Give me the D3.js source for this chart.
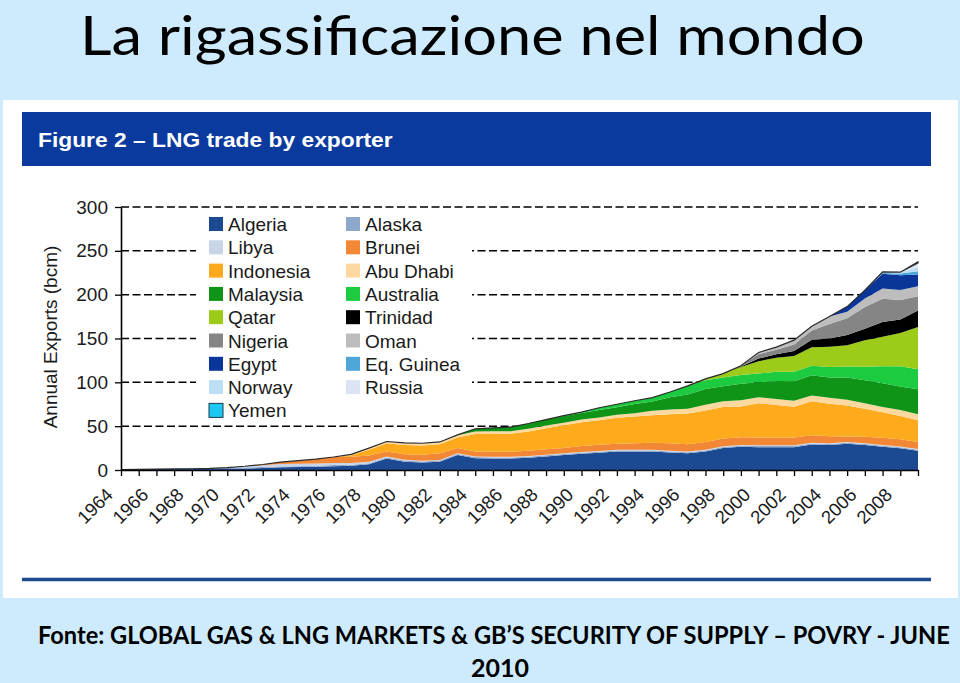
<!DOCTYPE html>
<html><head><meta charset="utf-8">
<script src="https://cdn.jsdelivr.net/npm/d3@7"></script>
<style>body{margin:0;padding:0;background:#cdebfd;} svg{display:block;}</style>
</head><body>
<svg id="c" width="960" height="683"></svg>
<script>
// ---------- DATA ----------
const years = [1964,1965,1966,1967,1968,1969,1970,1971,1972,1973,1974,1975,1976,1977,1978,1979,1980,1981,1982,1983,1984,1985,1986,1987,1988,1989,1990,1991,1992,1993,1994,1995,1996,1997,1998,1999,2000,2001,2002,2003,2004,2005,2006,2007,2008,2009];
const tickLabels = ["1964","1966","1968","1970","1972","1974","1976","1978","1980","1982","1984","1986","1988","1990","1992","1994","1996","1998","2000","2002","2004","2006","2008"];
const yTicks = [0,50,100,150,200,250,300];
const seriesNames = ["Algeria","Alaska","Libya","Brunei","Indonesia","Abu Dhabi","Malaysia","Australia","Qatar","Trinidad","Nigeria","Oman","Egypt","Eq. Guinea","Norway","Russia","Yemen"];

//                1964                                    1970                                         1980                                              1990                                              2000                                              2009
const algeria   = [0.5,0.8,1.0,1.2,1.4,1.5, 1.6,1.8,2.3,3.0,3.3,3.6,4.4,4.8,6.5,13.0, 9.5,8.5,9.5,17.0,13.5,13.0,13.0,14.0,15.5,17.0, 18.5,19.7,21.0,21.0,21.0,20.0,19.0,21.0,25.0,26.5, 26.0,26.0,26.0,29.0,28.5,30.0,28.5,26.5,24.7,22.0];
const alaska    = [0,0,0,0,0,0.3, 0.9,1.0,1.0,1.1,1.1,1.2,1.2,1.2,1.3,1.3, 1.2,1.2,1.2,1.2,1.2,1.2,1.2,1.2,1.2,1.2, 1.2,1.2,1.2,1.2,1.2,1.2,1.2,1.2,1.2,1.2, 1.3,1.3,1.3,1.2,1.2,1.2,1.2,1.1,1.2,1.2];
const libya     = [0,0,0,0,0,0, 0.3,1.5,2.2,2.7,2.8,2.6,2.4,2.0,1.6,1.2, 1.0,0.8,0.8,0.8,0.8,0.8,0.8,0.8,0.8,0.8, 0.8,0.8,0.8,0.8,0.8,0.8,0.8,0.8,0.8,0.8, 0.8,0.8,0.8,0.8,0.8,0.8,0.8,0.8,0.8,0.8];
const brunei    = [0,0,0,0,0,0, 0,0,0.8,2.2,3.4,5.0,6.8,7.0,7.0,5.5, 6.3,7.0,7.5,6.0,5.5,5.7,5.8,6.0,6.2,6.0, 7.0,7.0,7.0,7.5,8.0,8.5,8.5,9.0,9.0,9.0, 9.0,9.0,9.0,8.5,8.0,6.3,7.5,8.5,8.3,8.0];
const indonesia = [0,0,0,0,0,0, 0,0,0,0,0,0,0,1.8,6.6,9.5, 10.5,10.5,10.5,12.0,20.0,20.5,20.5,22.0,24.0,26.0, 27.0,28.0,29.5,30.5,31.5,33.0,35.0,36.0,36.0,35.0, 39.0,37.0,35.0,39.0,37.0,35.3,32.0,29.0,26.5,24.7];
const abuDhabi  = [0,0,0,0,0,0, 0,0,0,0,0,0,0,1.0,2.0,2.0, 2.5,2.5,2.5,2.5,2.8,3.0,3.0,3.0,3.0,3.0, 3.0,3.2,3.5,3.8,5.0,5.5,5.5,6.5,6.5,7.0, 7.0,7.0,7.0,6.5,7.0,6.5,6.0,6.0,6.8,7.0];
const malaysia  = [0,0,0,0,0,0, 0,0,0,0,0,0,0,0,0,0, 0,0,0,0.5,3.2,3.8,4.7,6.0,6.8,7.5, 7.5,8.5,8.5,10.5,10.5,14.0,16.0,18.0,17.0,19.0, 17.0,20.5,22.0,23.0,23.0,25.5,26.5,27.0,27.0,28.5];
const australia = [0,0,0,0,0,0, 0,0,0,0,0,0,0,0,0,0, 0,0,0,0,0,0,0,0,0,0.5, 1.0,2.6,3.5,3.7,4.5,6.0,10.0,10.0,10.0,10.0, 10.0,10.5,11.0,11.0,12.0,12.5,15.2,19.5,23.0,22.8];
const qatar     = [0,0,0,0,0,0, 0,0,0,0,0,0,0,0,0,0, 0,0,0,0,0,0,0,0,0,0, 0,0,0,0,0,0,0,1.5,4.5,9.0, 14.0,16.0,18.0,21.0,23.0,24.3,30.3,33.5,38.0,48.0];
const trinidad  = [0,0,0,0,0,0, 0,0,0,0,0,0,0,0,0,0, 0,0,0,0,0,0,0,0,0,0, 0,0,0,0,0,0,0,0,0,0.5, 3.0,4.0,5.5,8.5,9.5,11.7,13.0,17.0,15.5,19.0];
const nigeria   = [0,0,0,0,0,0, 0,0,0,0,0,0,0,0,0,0, 0,0,0,0,0,0,0,0,0,0, 0,0,0,0,0,0,0,0,0,1.0, 5.0,5.0,7.5,10.5,16.5,19.0,25.0,26.5,22.0,16.3];
const oman      = [0,0,0,0,0,0, 0,0,0,0,0,0,0,0,0,0, 0,0,0,0,0,0,0,0,0,0, 0,0,0,0,0,0,0,0,0,0, 2.0,3.0,5.0,5.0,8.5,7.3,9.5,11.5,11.4,11.4];
const egypt     = [0,0,0,0,0,0, 0,0,0,0,0,0,0,0,0,0, 0,0,0,0,0,0,0,0,0,0, 0,0,0,0,0,0,0,0,0,0, 0,0,0,0,0,6.0,9.5,17.0,17.0,13.3];
const eqGuinea  = [0,0,0,0,0,0, 0,0,0,0,0,0,0,0,0,0, 0,0,0,0,0,0,0,0,0,0, 0,0,0,0,0,0,0,0,0,0, 0,0,0,0,0,0,0,0.7,1.9,3.8];
const norway    = [0,0,0,0,0,0, 0,0,0,0,0,0,0,0,0,0, 0,0,0,0,0,0,0,0,0,0, 0,0,0,0,0,0,0,0,0,0, 0,0,0,0,0,0,0,1.3,1.5,4.5];
const russia    = [0,0,0,0,0,0, 0,0,0,0,0,0,0,0,0,0, 0,0,0,0,0,0,0,0,0,0, 0,0,0,0,0,0,0,0,0,0, 0,0,0,0,0,0,0,0,0,5.0];
const yemen     = [0,0,0,0,0,0, 0,0,0,0,0,0,0,0,0,0, 0,0,0,0,0,0,0,0,0,0, 0,0,0,0,0,0,0,0,0,0, 0,0,0,0,0,0,0,0,0,1.1];

const seriesValues = [algeria,alaska,libya,brunei,indonesia,abuDhabi,malaysia,australia,qatar,trinidad,nigeria,oman,egypt,eqGuinea,norway,russia,yemen];
const colors = ["#1b4a92","#8ea8cc","#c8d4e8","#f28735","#fdaa1c","#fdd9a0","#0f9418","#1ccb3f","#9ccb19","#000000","#858585","#bdbdbd","#0a3699","#4ca6d8","#bcdff5","#dce4f4","#1fc7f3"];

// ---------- CHART ----------
const svg = d3.select("#c");
const FONT = "'Liberation Sans', Arial, sans-serif";
const SLIDE_FONT = "Lato, 'Open Sans', sans-serif";

// fit a text horizontally to a target width with a real transform
function fitWidth(sel, x0, y0, target) {
  const w = sel.node().getComputedTextLength();
  const s = Math.min(1.3, target / w);
  sel.attr("x", 0).attr("y", 0).attr("transform", `translate(${x0},${y0}) scale(${s},1)`);
}

svg.append("rect").attr("width",960).attr("height",683).attr("fill","#cdebfd");
svg.append("rect").attr("x",3).attr("y",100).attr("width",955).attr("height",498).attr("fill","#ffffff");

const title = svg.append("text").attr("font-family",SLIDE_FONT).attr("font-size",55)
  .attr("fill","#000").text("La rigassificazione nel mondo");
fitWidth(title, 80, 55, 785);

svg.append("rect").attr("x",22).attr("y",112).attr("width",909).attr("height",54).attr("fill","#0b3a9e");
const fig = svg.append("text").attr("font-family",FONT).attr("font-weight","bold")
  .attr("font-size",21).attr("fill","#ffffff").text("Figure 2 \u2013 LNG trade by exporter");
fitWidth(fig, 38, 147, 355);

const x = d3.scaleLinear().domain([years[0], years[years.length-1]]).range([121, 918]);
const y = d3.scaleLinear().domain([0, 300]).range([470, 207]);

// gridlines
svg.append("g").selectAll("line").data(yTicks.filter(v => v > 0)).join("line")
  .attr("x1",121).attr("x2",918).attr("y1",d=>y(d)).attr("y2",d=>y(d))
  .attr("stroke","#000").attr("stroke-width",1.5).attr("stroke-dasharray","8,3.5");

// stacked areas
const table = years.map((yr,i) => {
  const row = {year: yr};
  seriesNames.forEach((n,k) => row[n] = seriesValues[k][i]);
  return row;
});
const stack = d3.stack().keys(seriesNames)(table);
const area = d3.area().x(d => x(d.data.year)).y0(d => y(d[0])).y1(d => y(d[1]));
svg.append("g").selectAll("path").data(stack).join("path")
  .attr("d", area).attr("fill", (d,i) => colors[i])
  .attr("stroke", (d,i) => i === seriesNames.length-1 ? "#2a2a2a" : "none")
  .attr("stroke-width", 1.2);

// legend
svg.append("rect").attr("x",196).attr("y",212).attr("width",276).attr("height",208).attr("fill","#fff");
const lg = svg.append("g").selectAll("g").data(seriesNames).join("g")
  .attr("transform",(d,i)=>`translate(${i%2===0?209:346},${224 + Math.floor(i/2)*23.3})`);
lg.append("rect").attr("x",0).attr("y",-7).attr("width",14).attr("height",14)
  .attr("fill",(d,i)=>colors[i])
  .attr("stroke",(d,i)=> i===seriesNames.length-1 ? "#1a3a4a" : "none").attr("stroke-width",1);
lg.append("text").attr("x",19).attr("y",7).attr("font-family",FONT).attr("font-size",19)
  .attr("fill","#1a1a1a").text(d=>d);

// axes
const yAxis = svg.append("g").attr("transform","translate(121,0)")
  .call(d3.axisLeft(y).tickValues(yTicks).tickSize(6).tickSizeOuter(0).tickPadding(7));
yAxis.selectAll("text").attr("font-family",FONT).attr("font-size",19).attr("fill","#1a1a1a");
yAxis.selectAll("line").attr("stroke","#000").attr("stroke-width",1.3);
yAxis.select(".domain").attr("stroke","#000").attr("stroke-width",1.6);

const xAxis = svg.append("g").attr("transform","translate(0,470)")
  .call(d3.axisBottom(x).tickValues(years).tickSize(6).tickSizeOuter(0)
    .tickFormat(d => tickLabels.includes(String(d)) ? String(d) : ""));
xAxis.selectAll("text").attr("font-family",FONT).attr("font-size",18.5).attr("fill","#1a1a1a")
  .attr("text-anchor","end").attr("x",0).attr("y",0).attr("dy",0)
  .attr("transform","translate(-7.5,26) rotate(-45)");
xAxis.selectAll("line").attr("stroke","#000").attr("stroke-width",1.3);
xAxis.select(".domain").attr("stroke","#000").attr("stroke-width",1.6);

svg.append("text").attr("transform","translate(57,337) rotate(-90)").attr("text-anchor","middle")
  .attr("font-family",FONT).attr("font-size",19).attr("fill","#1a1a1a").text("Annual Exports (bcm)");

svg.append("line").attr("x1",22).attr("x2",931).attr("y1",579.5).attr("y2",579.5)
  .attr("stroke","#1f4a90").attr("stroke-width",3.5);

// footer
const foot = svg.append("text").attr("font-family",SLIDE_FONT)
  .attr("font-weight","bold").attr("font-size",25).attr("fill","#000")
  .text("Fonte: GLOBAL GAS & LNG MARKETS & GB\u2019S SECURITY OF SUPPLY \u2013 POVRY - JUNE");
fitWidth(foot, 38, 644, 912);
svg.append("text").attr("x",500).attr("y",677).attr("text-anchor","middle").attr("font-family",SLIDE_FONT)
  .attr("font-weight","bold").attr("font-size",25).attr("fill","#000").text("2010");
</script>
</body></html>
